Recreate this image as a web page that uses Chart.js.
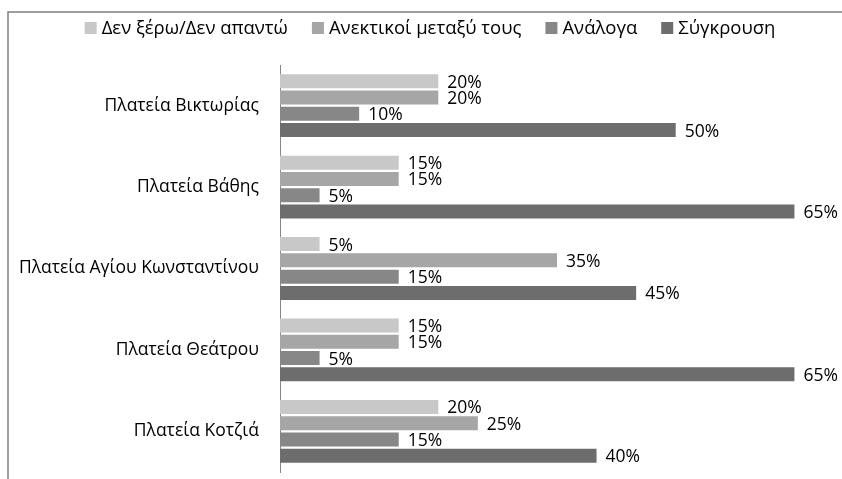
<!DOCTYPE html>
<html>
<head>
<meta charset="utf-8">
<script src="https://cdn.jsdelivr.net/npm/chart.js@4.4.0/dist/chart.umd.min.js"></script>
<style>
html,body{margin:0;padding:0;background:#fff;}
#wrap{width:842px;height:479px;position:relative;}
</style>
</head>
<body>
<div id="wrap"><canvas id="c" width="842" height="479"></canvas></div>
<script>
const categories = ["Πλατεία Βικτωρίας", "Πλατεία Βάθης", "Πλατεία Αγίου Κωνσταντίνου", "Πλατεία Θεάτρου", "Πλατεία Κοτζιά"];
const seriesNames = ["Δεν ξέρω/Δεν απαντώ", "Ανεκτικοί μεταξύ τους", "Ανάλογα", "Σύγκρουση"];
const dontKnow = [20, 15, 5, 15, 20];
const tolerant = [20, 15, 35, 15, 25];
const depends = [10, 5, 15, 5, 15];
const conflict = [50, 65, 45, 65, 40];
const colors = ["#c8c8c8", "#a6a6a6", "#878787", "#6d6d6d"];

const seriesValues = [dontKnow, tolerant, depends, conflict];
const labelFont = "'Open Sans', 'Noto Sans', sans-serif";

const frame = {
  id: 'frame',
  beforeDraw(chart) {
    const ctx = chart.ctx;
    ctx.save();
    ctx.fillStyle = '#fff';
    ctx.fillRect(0, 0, chart.width, chart.height);
    ctx.strokeStyle = '#7f7f7f';
    ctx.lineWidth = 1.5;
    ctx.beginPath();
    ctx.moveTo(8, 490);
    ctx.lineTo(8, 12);
    ctx.lineTo(860, 12);
    ctx.stroke();
    ctx.restore();
  }
};

// legend drawn from the datasets (names + colours)
const customLegend = {
  id: 'customLegend',
  afterDraw(chart) {
    const ctx = chart.ctx;
    const box = 12, gapText = 5, gapItem = 24, cy = 28, centerX = 430;
    ctx.save();
    ctx.font = "18.5px " + labelFont;
    ctx.textBaseline = 'middle';
    ctx.textAlign = 'left';
    const items = chart.data.datasets.map(ds => ({ text: ds.label, color: ds.backgroundColor, w: ctx.measureText(ds.label).width }));
    const total = items.reduce((s, it) => s + box + gapText + it.w, 0) + gapItem * (items.length - 1);
    let x = centerX - total / 2;
    items.forEach(it => {
      ctx.fillStyle = it.color;
      ctx.fillRect(x, cy - box / 2, box, box);
      ctx.fillStyle = '#000';
      ctx.fillText(it.text, x + box + gapText, cy + 1);
      x += box + gapText + it.w + gapItem;
    });
    ctx.restore();
  }
};

const valueLabels = {
  id: 'valueLabels',
  afterDatasetsDraw(chart) {
    const ctx = chart.ctx;
    ctx.save();
    ctx.font = "17.5px " + labelFont;
    ctx.fillStyle = '#000';
    ctx.textAlign = 'left';
    ctx.textBaseline = 'middle';
    chart.data.datasets.forEach((ds, i) => {
      const meta = chart.getDatasetMeta(i);
      meta.data.forEach((bar, j) => {
        ctx.fillText(ds.data[j] + '%', bar.x + 9, bar.y + 1.5);
      });
    });
    ctx.restore();
  }
};

new Chart(document.getElementById('c'), {
  type: 'bar',
  data: {
    labels: categories,
    datasets: seriesNames.map((n, i) => ({
      label: n,
      data: seriesValues[i],
      backgroundColor: colors[i],
      borderWidth: 0,
      categoryPercentage: 0.8,
      barPercentage: 0.86
    }))
  },
  options: {
    indexAxis: 'y',
    responsive: false,
    animation: false,
    events: [],
    layout: { padding: { left: 8, right: 8, top: 65, bottom: 7 } },
    scales: {
      x: { display: false, min: 0, max: 70 },
      y: {
        afterFit(scale) { scale.width = 272; scale.paddingTop = 0; scale.paddingBottom = 0; },
        grid: { display: false, drawTicks: false },
        border: { display: true, color: '#868686', width: 1 },
        ticks: { color: '#000', padding: 21, font: { size: 17.5, family: labelFont } }
      }
    },
    plugins: {
      tooltip: { enabled: false },
      legend: { display: false }
    }
  },
  plugins: [frame, customLegend, valueLabels]
});
</script>
</body>
</html>
